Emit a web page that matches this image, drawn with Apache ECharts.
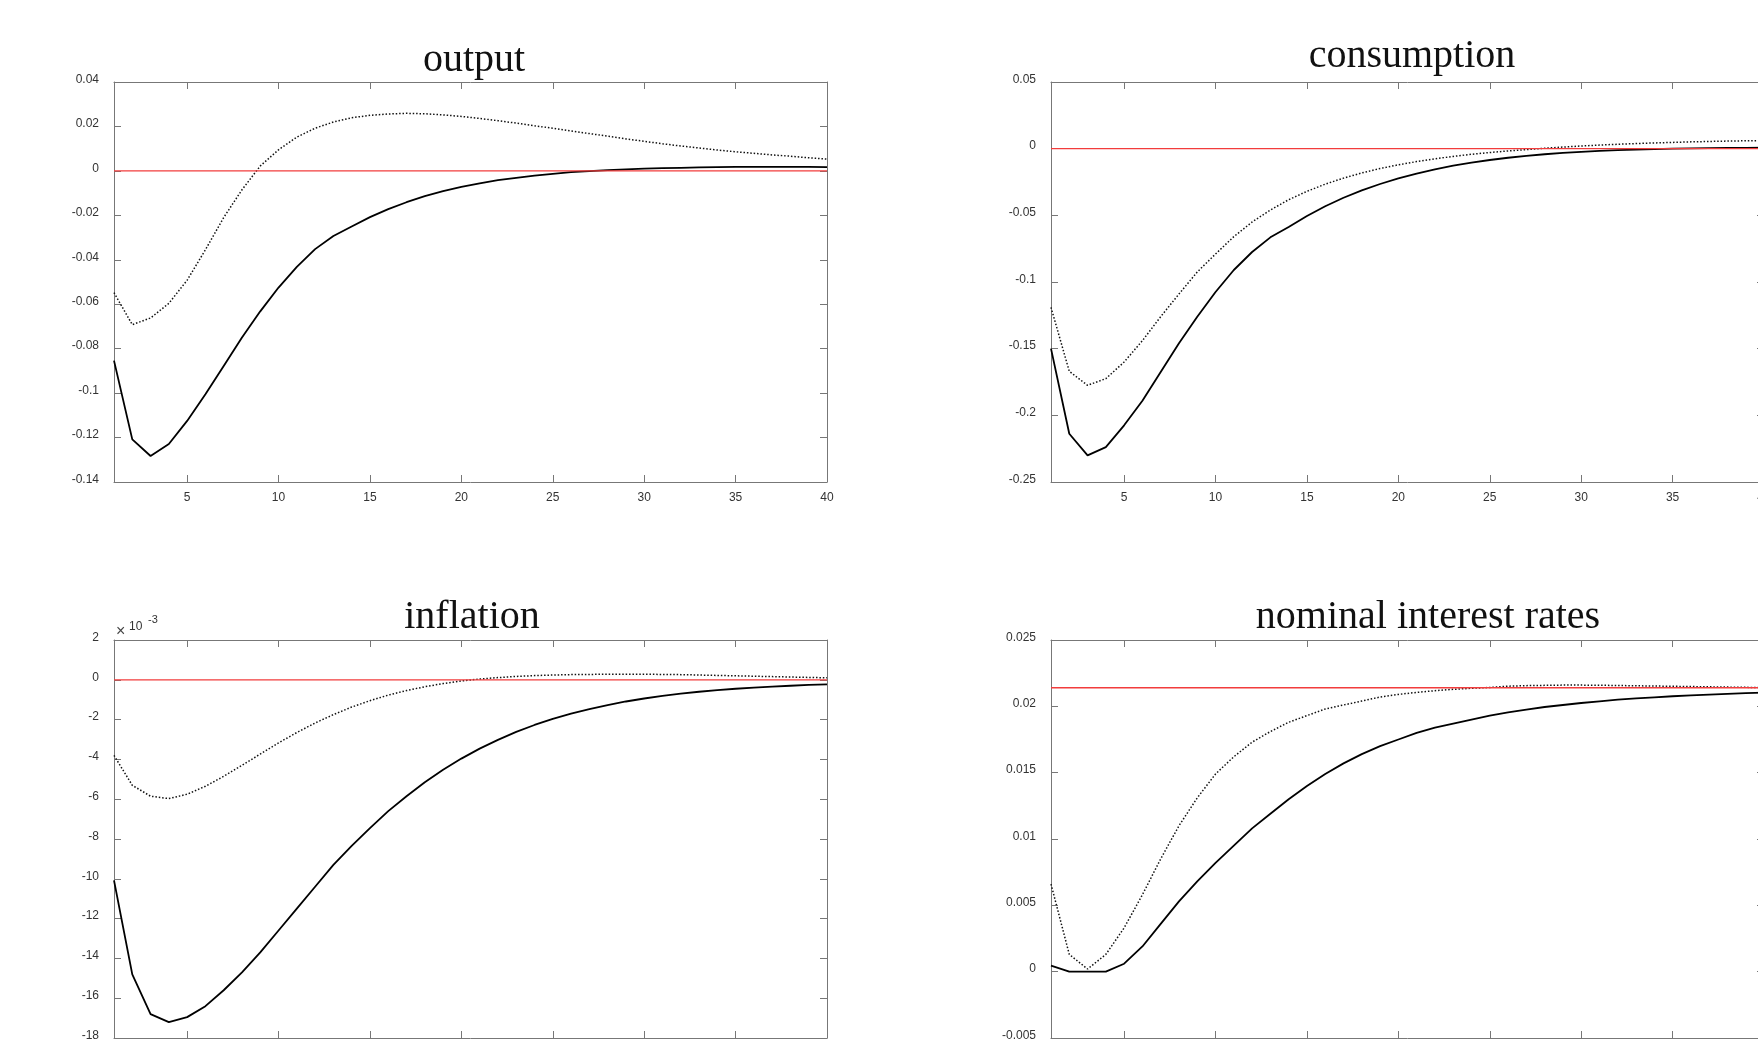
<!DOCTYPE html>
<html>
<head>
<meta charset="utf-8">
<title>impulse responses</title>
<script src="https://cdn.jsdelivr.net/npm/echarts@6/dist/echarts.min.js"></script>
<style>
  html, body { margin: 0; padding: 0; background: #fff; overflow: hidden; }
  #irf { width: 1780px; height: 1060px; }
</style>
</head>
<body>
<div id="irf"></div>
<script>
// horizon (quarters)
var periods = [1,2,3,4,5,6,7,8,9,10,11,12,13,14,15,16,17,18,19,20,
               21,22,23,24,25,26,27,28,29,30,31,32,33,34,35,36,37,38,39,40];
var xTicks = [5, 10, 15, 20, 25, 30, 35, 40];

// output
var outputSolid = [-0.0854,-0.1208,-0.1283,-0.1229,-0.1125,-0.1005,-0.0878,-0.0750,-0.0632,-0.0525,
                   -0.0432,-0.0352,-0.0293,-0.0250,-0.0208,-0.0172,-0.0141,-0.0114,-0.0091,-0.0072,
                   -0.0056,-0.0042,-0.0031,-0.0021,-0.0013,-0.0006,-0.0001,0.0003,0.0007,0.0010,
                   0.0012,0.0014,0.0016,0.0017,0.0018,0.0018,0.0018,0.0018,0.0018,0.0017];
var outputDotted = [-0.0548,-0.0692,-0.0662,-0.0596,-0.0492,-0.0355,-0.0210,-0.0085,0.0022,0.0095,
                    0.0152,0.0192,0.0220,0.0239,0.0250,0.0256,0.0259,0.0257,0.0252,0.0245,
                    0.0236,0.0226,0.0215,0.0203,0.0192,0.0180,0.0168,0.0156,0.0144,0.0133,
                    0.0122,0.0112,0.0103,0.0094,0.0086,0.0079,0.0072,0.0066,0.0059,0.0053];
var outputSteady = 0;

// consumption
var consSolid = [-0.1500,-0.2138,-0.2300,-0.2238,-0.2075,-0.1890,-0.1675,-0.1460,-0.1260,-0.1075,
                 -0.0910,-0.0775,-0.0665,-0.0588,-0.0505,-0.0432,-0.0368,-0.0313,-0.0265,-0.0223,
                 -0.0187,-0.0155,-0.0128,-0.0105,-0.0085,-0.0068,-0.0054,-0.0042,-0.0032,-0.0024,
                 -0.0017,-0.0011,-0.0007,-0.0003,0.0000,0.0002,0.0004,0.0005,0.0006,0.0007];
var consDotted = [-0.1190,-0.1670,-0.1775,-0.1725,-0.1600,-0.1440,-0.1260,-0.1090,-0.0925,-0.0790,
                  -0.0660,-0.0550,-0.0460,-0.0383,-0.0320,-0.0266,-0.0221,-0.0182,-0.0149,-0.0121,
                  -0.0097,-0.0076,-0.0058,-0.0042,-0.0029,-0.0017,-0.0007,0.0003,0.0012,0.0020,
                  0.0027,0.0033,0.0038,0.0043,0.0047,0.0051,0.0054,0.0057,0.0059,0.0061];
var consSteady = 0;

// inflation, in units of 10^-3
var inflSolid = [-10.08,-14.8,-16.8,-17.2,-16.95,-16.4,-15.6,-14.7,-13.7,-12.6,
                 -11.5,-10.4,-9.3,-8.35,-7.45,-6.6,-5.85,-5.15,-4.52,-3.96,
                 -3.46,-3.02,-2.62,-2.27,-1.96,-1.70,-1.47,-1.27,-1.09,-0.94,
                 -0.81,-0.70,-0.60,-0.52,-0.45,-0.39,-0.34,-0.30,-0.26,-0.23];
var inflDotted = [-3.8,-5.3,-5.85,-5.97,-5.75,-5.35,-4.85,-4.3,-3.73,-3.17,
                  -2.65,-2.17,-1.75,-1.37,-1.05,-0.77,-0.54,-0.35,-0.19,-0.06,
                  0.04,0.11,0.17,0.21,0.24,0.26,0.27,0.28,0.28,0.28,
                  0.27,0.26,0.24,0.22,0.20,0.18,0.16,0.14,0.12,0.10];
var inflSteady = 0;

// nominal interest rates
var rateSolid = [0.00045,0.0000,0.0000,0.0000,0.0006,0.0019,0.0036,0.0053,0.0068,0.0082,
                 0.0095,0.0108,0.0119,0.0130,0.0140,0.0149,0.0157,0.0164,0.0170,0.0175,
                 0.0180,0.0184,0.0187,0.0190,0.0193,0.01955,0.01975,0.01995,0.0201,0.02025,
                 0.02038,0.0205,0.0206,0.02068,0.02076,0.02083,0.02089,0.02094,0.02099,0.02103];
var rateDotted = [0.0066,0.0013,0.0002,0.0013,0.0033,0.0058,0.0085,0.0110,0.0131,0.0149,
                  0.0162,0.0173,0.0181,0.0188,0.0193,0.0198,0.0201,0.0204,0.0207,0.0209,
                  0.02105,0.02118,0.02128,0.02136,0.02142,0.02152,0.02156,0.02158,0.0216,0.0216,
                  0.02159,0.02157,0.02155,0.02153,0.02151,0.02149,0.02147,0.02145,0.02143,0.02142];
var rateSteady = 0.0214;

var panels = [
  {title: 'output', tx: 474, ty: 60, left: 114, top: 82, height: 400, min: -0.14, max: 0.04, interval: 0.02,
   solid: outputSolid, dotted: outputDotted, steady: outputSteady},
  {title: 'consumption', tx: 1412, ty: 56, left: 1051, top: 82, height: 400, min: -0.25, max: 0.05, interval: 0.05,
   solid: consSolid, dotted: consDotted, steady: consSteady},
  {title: 'inflation', tx: 472, ty: 617, left: 114, top: 640, height: 402, min: -18, max: 2, interval: 2,
   solid: inflSolid, dotted: inflDotted, steady: inflSteady},
  {title: 'nominal interest rates', tx: 1428, ty: 617, left: 1051, top: 640, height: 402, min: -0.005, max: 0.025, interval: 0.005,
   solid: rateSolid, dotted: rateDotted, steady: rateSteady}
];

var boxColor = '#777777';
var labelFont = {color: '#333333', fontFamily: 'Liberation Sans', fontSize: 12};

function pairs(vals) {
  return periods.map(function (t, k) { return [t, vals[k]]; });
}

var grid = [], xAxis = [], yAxis = [], series = [], graphic = [];

panels.forEach(function (p, i) {
  grid.push({left: p.left, top: p.top, width: 713, height: p.height});

  ['bottom', 'top'].forEach(function (pos) {
    xAxis.push({
      type: 'value', gridIndex: i, position: pos, min: 1, max: 40,
      axisLine: {show: true, onZero: false, lineStyle: {color: boxColor, width: 1}},
      axisTick: {show: true, inside: true, length: 7, customValues: xTicks,
                 lineStyle: {color: boxColor, width: 1}},
      axisLabel: Object.assign({show: pos === 'bottom', customValues: xTicks, margin: 10}, labelFont),
      splitLine: {show: false}
    });
  });

  ['left', 'right'].forEach(function (pos) {
    yAxis.push({
      type: 'value', gridIndex: i, position: pos, min: p.min, max: p.max, interval: p.interval,
      axisLine: {show: true, onZero: false, lineStyle: {color: boxColor, width: 1}},
      axisTick: {show: true, inside: true, length: 7, lineStyle: {color: boxColor, width: 1}},
      // labels sit a little above their tick, as in the matlab figure
      axisLabel: Object.assign({show: pos === 'left', margin: 15, verticalAlign: 'bottom', lineHeight: 5}, labelFont),
      splitLine: {show: false}
    });
  });

  series.push({
    type: 'line', xAxisIndex: 2 * i, yAxisIndex: 2 * i, data: pairs(p.solid),
    showSymbol: false, silent: true, z: 3,
    lineStyle: {color: '#000000', width: 1.8}
  });
  series.push({
    type: 'line', xAxisIndex: 2 * i, yAxisIndex: 2 * i, data: pairs(p.dotted),
    showSymbol: false, silent: true, z: 3,
    lineStyle: {color: '#111111', width: 1.5, type: [1.5, 1.9]}
  });
  series.push({
    type: 'line', xAxisIndex: 2 * i, yAxisIndex: 2 * i,
    data: [[periods[0], p.steady], [periods[periods.length - 1], p.steady]],
    showSymbol: false, silent: true, z: 4,
    lineStyle: {color: '#f23c3c', width: 1.3}
  });

  graphic.push({
    type: 'text', x: p.tx, y: p.ty, silent: true,
    style: {text: p.title, align: 'center', verticalAlign: 'middle',
            font: '40px "Liberation Serif"', fill: '#111111'}
  });
});

// exponent marker on the inflation panel
graphic.push({type: 'text', x: 116, y: 632, silent: true,
  style: {text: '\u00d7', font: '16px "Liberation Sans"', fill: '#444', verticalAlign: 'middle'}});
graphic.push({type: 'text', x: 129, y: 627, silent: true,
  style: {text: '10', font: '12px "Liberation Sans"', fill: '#333', verticalAlign: 'middle'}});
graphic.push({type: 'text', x: 148, y: 620, silent: true,
  style: {text: '-3', font: '11px "Liberation Sans"', fill: '#333', verticalAlign: 'middle'}});

var chart = echarts.init(document.getElementById('irf'));
chart.setOption({
  animation: false,
  backgroundColor: '#ffffff',
  grid: grid,
  xAxis: xAxis,
  yAxis: yAxis,
  series: series,
  graphic: graphic
});
</script>
</body>
</html>
